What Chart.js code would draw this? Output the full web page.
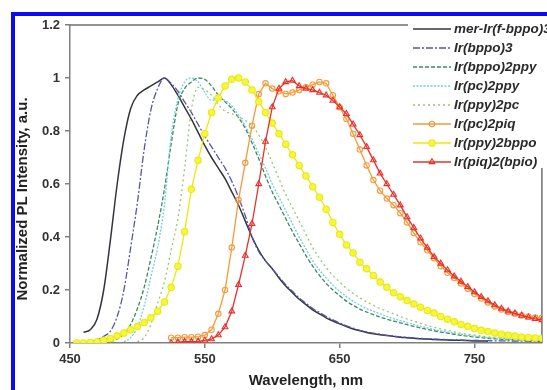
<!DOCTYPE html>
<html>
<head>
<meta charset="utf-8">
<script src="https://cdn.jsdelivr.net/npm/chart.js"></script>
<style>
  html, body { margin: 0; padding: 0; background: #fff; }
  #wrap { position: relative; width: 547px; height: 390px; overflow: hidden; }
</style>
</head>
<body>
<div id="wrap"><canvas id="plChart" width="547" height="390"></canvas></div>
<script>
// wavelength grid (nm) the curves were read at
const wavelengths = [
  450, 455, 460, 465, 470, 475, 480, 485, 490, 495,
  500, 505, 510, 515, 520, 525, 530, 535, 540, 545,
  550, 555, 560, 565, 570, 575, 580, 585, 590, 595,
  600, 605, 610, 615, 620, 625, 630, 635, 640, 645,
  650, 655, 660, 665, 670, 675, 680, 685, 690, 695,
  700, 705, 710, 715, 720, 725, 730, 735, 740, 745,
  750, 755, 760, 765, 770, 775, 780, 785, 790, 795,
  800
];

const seriesNames = [
  'mer-Ir(f-bppo)3', 'Ir(bppo)3', 'Ir(bppo)2ppy', 'Ir(pc)2ppy',
  'Ir(ppy)2pc', 'Ir(pc)2piq', 'Ir(ppy)2bppo', 'Ir(piq)2(bpio)'
];

const merIrFbppo3 = [
  null, null, 0.04, 0.05, 0.09, 0.20, 0.39, 0.60, 0.77, 0.885,
  0.935, 0.955, 0.97, 0.985, 1.0, 0.975, 0.935, 0.89, 0.845, 0.795,
  0.745, 0.70, 0.66, 0.62, 0.57, 0.52, 0.46, 0.40, 0.35, 0.31,
  0.28, 0.245, 0.215, 0.19, 0.165, 0.145, 0.125, 0.11, 0.095, 0.083,
  0.072, 0.062, 0.053, 0.046, 0.04, 0.035, 0.031, 0.028, 0.025, 0.022,
  0.02, 0.018, 0.016, 0.015, 0.013, 0.012, 0.011, 0.01, 0.01, 0.009,
  0.008, 0.008, 0.007, null, null, null, null, null, null, null,
  null
];

const irBppo3 = [
  null, null, null, 0.005, 0.012, 0.025, 0.045, 0.10, 0.20, 0.36,
  0.53, 0.73, 0.88, 0.96, 1.0, 0.98, 0.95, 0.91, 0.87, 0.825,
  0.78, 0.74, 0.70, 0.66, 0.61, 0.55, 0.48, 0.40, 0.345, 0.31,
  0.28, 0.25, 0.22, 0.195, 0.17, 0.15, 0.13, 0.115, 0.10, 0.087,
  0.075, 0.065, 0.056, 0.048, 0.042, 0.037, 0.033, 0.029, 0.026, 0.023,
  0.021, 0.019, 0.017, 0.016, 0.015, 0.014, 0.013, 0.012, 0.011, 0.01,
  0.01, 0.009, 0.009, 0.008, 0.008, 0.008, 0.007, 0.007, 0.007, 0.006,
  0.006
];

const irBppo2ppy = [
  null, null, null, null, null, null, 0.005, 0.015, 0.035, 0.07,
  0.13, 0.21, 0.32, 0.44, 0.58, 0.75, 0.90, 0.96, 0.985, 1.0,
  0.995, 0.97, 0.935, 0.91, 0.885, 0.85, 0.81, 0.755, 0.695, 0.63,
  0.57, 0.52, 0.47, 0.42, 0.375, 0.33, 0.29, 0.255, 0.225, 0.2,
  0.178, 0.158, 0.142, 0.128, 0.117, 0.107, 0.098, 0.09, 0.083, 0.076,
  0.069, 0.063, 0.057, 0.051, 0.046, 0.041, 0.037, 0.033, 0.029, 0.026,
  0.023, 0.02, 0.018, 0.016, 0.014, 0.013, 0.012, 0.011, 0.01, 0.009,
  0.009
];

const irPc2ppy = [
  null, null, null, null, null, null, null, null, 0.005, 0.02,
  0.06, 0.14, 0.25, 0.36, 0.52, 0.78, 0.92, 0.985, 1.0, 0.985,
  0.945, 0.915, 0.92, 0.915, 0.895, 0.86, 0.82, 0.77, 0.715, 0.66,
  0.60, 0.55, 0.50, 0.45, 0.40, 0.355, 0.31, 0.275, 0.245, 0.218,
  0.195, 0.175, 0.158, 0.143, 0.13, 0.12, 0.11, 0.1, 0.092, 0.084,
  0.077, 0.07, 0.063, 0.057, 0.051, 0.046, 0.041, 0.037, 0.033, 0.029,
  0.026, 0.023, 0.02, 0.018, 0.016, 0.014, 0.013, 0.012, 0.011, 0.01,
  0.01
];

const irPpy2pc = [
  null, null, null, null, null, null, null, null, null, null,
  0.005, 0.02, 0.07, 0.15, 0.23, 0.35, 0.47, 0.66, 0.88, 0.965,
  0.955, 0.935, 0.90, 0.875, 0.865, 0.855, 0.84, 0.82, 0.785, 0.74,
  0.68, 0.62, 0.56, 0.51, 0.46, 0.41, 0.36, 0.32, 0.285, 0.255,
  0.23, 0.207, 0.187, 0.17, 0.155, 0.142, 0.13, 0.12, 0.11, 0.1,
  0.091, 0.082, 0.074, 0.066, 0.059, 0.053, 0.047, 0.042, 0.037, 0.033,
  0.03, 0.026, 0.023, 0.021, 0.019, 0.017, 0.015, 0.013, 0.012, 0.011,
  0.01
];

const irPc2piq = [
  null, null, null, null, null, null, null, null, null, null,
  null, null, null, null, null, 0.02, 0.02, 0.022, 0.022, 0.024,
  0.03, 0.05, 0.11, 0.2, 0.36, 0.54, 0.68, 0.82, 0.94, 0.98,
  0.96, 0.95, 0.94, 0.945, 0.955, 0.965, 0.975, 0.985, 0.98, 0.935,
  0.89, 0.845, 0.79, 0.73, 0.67, 0.615, 0.575, 0.545, 0.52, 0.49,
  0.455, 0.415, 0.38, 0.35, 0.32, 0.29, 0.265, 0.245, 0.225, 0.205,
  0.185, 0.168, 0.153, 0.138, 0.126, 0.117, 0.11, 0.104, 0.1, 0.096,
  0.095
];

const irPpy2bppo = [
  null, 0.0, 0.0, 0.002, 0.005, 0.01, 0.017, 0.027, 0.038, 0.05,
  0.062, 0.077, 0.095, 0.12, 0.155, 0.21, 0.29, 0.42, 0.58, 0.69,
  0.79, 0.87, 0.925, 0.97, 0.995, 1.0, 0.985, 0.955, 0.91, 0.87,
  0.83, 0.79, 0.75, 0.71, 0.67, 0.63, 0.59, 0.55, 0.505, 0.455,
  0.41, 0.37, 0.34, 0.305, 0.28, 0.255, 0.23, 0.21, 0.19, 0.175,
  0.16, 0.147, 0.135, 0.123, 0.113, 0.1, 0.09, 0.08, 0.07, 0.063,
  0.055, 0.048, 0.043, 0.038, 0.033, 0.029, 0.026, 0.023, 0.021, 0.019,
  0.018
];

const irPiq2bpio = [
  null, null, null, null, null, null, null, null, null, null,
  null, null, null, null, null, 0.0, 0.003, 0.005, 0.005, 0.006,
  0.01, 0.015, 0.03, 0.06, 0.12, 0.22, 0.33, 0.45, 0.6, 0.76,
  0.89, 0.96, 0.985, 0.99, 0.97, 0.96, 0.955, 0.945, 0.935, 0.915,
  0.89, 0.865, 0.825, 0.785, 0.74, 0.69, 0.64, 0.6, 0.56, 0.52,
  0.475, 0.435, 0.395, 0.36, 0.325, 0.3, 0.275, 0.252, 0.232, 0.212,
  0.192, 0.174, 0.158, 0.143, 0.13, 0.12, 0.112, 0.104, 0.097, 0.091,
  0.087
];

const xTickValues = [450, 550, 650, 750];
const yTickValues = [0, 0.2, 0.4, 0.6, 0.8, 1, 1.2];
const yTickLabels = ['0', '0.2', '0.4', '0.6', '0.8', '1', '1.2'];

const FONT = '"Liberation Sans", Arial, sans-serif';
const AXIS_GREY = '#808080';

const toPoints = (values) => wavelengths
  .map((w, i) => ({x: w, y: values[i]}))
  .filter((p) => p.y !== null);

const lineSet = (i, values, color, dash, width = 1.3) => ({
  label: seriesNames[i],
  data: toPoints(values),
  borderColor: color,
  backgroundColor: color,
  borderWidth: width,
  borderDash: dash,
  pointRadius: 0,
  cubicInterpolationMode: 'monotone',
  order: 7 - i
});

const markerSet = (i, values, color, style, fill, radius) => ({
  label: seriesNames[i],
  data: toPoints(values),
  borderColor: color,
  backgroundColor: fill,
  borderWidth: 1.3,
  borderDash: [],
  pointStyle: style,
  pointRadius: radius,
  pointBorderColor: color,
  pointBackgroundColor: fill,
  pointBorderWidth: 1.1,
  tension: 0,
  order: 7 - i
});

const drawMarker = (ctx, style, x, y, r, stroke, fill) => {
  ctx.beginPath();
  if (style === 'triangle') {
    ctx.moveTo(x, y - r);
    ctx.lineTo(x + r * 0.87, y + r * 0.5);
    ctx.lineTo(x - r * 0.87, y + r * 0.5);
    ctx.closePath();
  } else {
    ctx.arc(x, y, r, 0, Math.PI * 2);
  }
  ctx.fillStyle = fill;
  ctx.fill();
  ctx.strokeStyle = stroke;
  ctx.lineWidth = 1.1;
  ctx.stroke();
};

// top/right frame of the plot, drawn under the curves
const plotFrame = {
  id: 'plotFrame',
  beforeDatasetsDraw(chart) {
    const {ctx, chartArea: a} = chart;
    ctx.save();
    ctx.strokeStyle = '#707070';
    ctx.lineWidth = 1.5;
    ctx.beginPath();
    ctx.moveTo(a.left, a.top);
    ctx.lineTo(a.right, a.top);
    ctx.lineTo(a.right, a.bottom);
    ctx.stroke();
    ctx.restore();
  }
};

// legend sits over the plot, y title and blue border
const overlay = {
  id: 'overlay',
  afterDraw(chart) {
    const ctx = chart.ctx;
    ctx.save();

    ctx.fillStyle = '#fff';
    ctx.fillRect(408, 17, 139, 151);
    chart.data.datasets.forEach((ds, i) => {
      const y = 29 + i * 19;
      ctx.strokeStyle = ds.borderColor;
      ctx.lineWidth = ds.borderWidth;
      ctx.setLineDash(ds.borderDash || []);
      ctx.beginPath();
      ctx.moveTo(413, y);
      ctx.lineTo(451, y);
      ctx.stroke();
      ctx.setLineDash([]);
      if (ds.pointRadius > 0) {
        drawMarker(ctx, ds.pointStyle, 432, y, ds.pointRadius, ds.pointBorderColor, ds.pointBackgroundColor);
      }
      ctx.fillStyle = '#2a2a2a';
      ctx.font = `italic bold 13.5px ${FONT}`;
      ctx.textAlign = 'left';
      ctx.textBaseline = 'middle';
      ctx.fillText(ds.label, 454, y);
    });

    ctx.translate(23, 199);
    ctx.rotate(-Math.PI / 2);
    ctx.fillStyle = '#222';
    ctx.font = `bold 15px ${FONT}`;
    ctx.textAlign = 'center';
    ctx.textBaseline = 'middle';
    ctx.fillText('Normalized PL Intensity, a.u.', 0, 0);
    ctx.setTransform(1, 0, 0, 1, 0, 0);

    ctx.fillStyle = '#0a0af5';
    ctx.fillRect(11, 12, 4, 390);
    ctx.fillRect(11, 12, 547, 4);
    ctx.restore();
  }
};

const datasets = [
  lineSet(0, merIrFbppo3, '#34343e', [], 1.5),
  lineSet(1, irBppo3, '#5656a6', [7, 2, 2, 2]),
  lineSet(2, irBppo2ppy, '#3a8a5c', [4, 2]),
  lineSet(3, irPc2ppy, '#6fcde0', [2, 1.5]),
  lineSet(4, irPpy2pc, '#92c874', [2, 3]),
  markerSet(5, irPc2piq, '#f59a3a', 'circle', 'rgba(255,255,255,0)', 2.7),
  markerSet(6, irPpy2bppo, '#eaea10', 'circle', '#f6f640', 3.2),
  markerSet(7, irPiq2bpio, '#e8302a', 'triangle', 'rgba(255,255,255,0)', 3.3)
];

new Chart(document.getElementById('plChart'), {
  type: 'line',
  data: {datasets},
  options: {
    responsive: false,
    animation: false,
    events: [],
    layout: {padding: {top: 25, right: 3, left: 0, bottom: 0}},
    plugins: {legend: {display: false}, tooltip: {enabled: false}},
    scales: {
      x: {
        type: 'linear',
        min: 450,
        max: 800,
        afterBuildTicks: (s) => { s.ticks = xTickValues.map((v) => ({value: v})); },
        afterFit: (s) => { s.height = 47; },
        border: {color: AXIS_GREY, width: 1.5},
        grid: {drawOnChartArea: false, drawTicks: true, tickLength: 5, color: AXIS_GREY, lineWidth: 1.5},
        ticks: {color: '#333', font: {family: FONT, size: 13, weight: 'bold'}, padding: 4, maxRotation: 0, autoSkip: false},
        title: {display: true, text: 'Wavelength, nm', color: '#222', font: {family: FONT, size: 15, weight: 'bold'}, padding: {top: 0, bottom: 0}}
      },
      y: {
        min: 0,
        max: 1.2,
        afterBuildTicks: (s) => { s.ticks = yTickValues.map((v) => ({value: v})); },
        afterFit: (s) => { s.width = 70; },
        border: {color: AXIS_GREY, width: 1.5},
        grid: {drawOnChartArea: false, drawTicks: true, tickLength: 5, color: AXIS_GREY, lineWidth: 1.5},
        ticks: {
          color: '#333',
          font: {family: FONT, size: 13, weight: 'bold'},
          padding: 5,
          callback: (v, i) => yTickLabels[i]
        }
      }
    }
  },
  plugins: [plotFrame, overlay]
});
</script>
</body>
</html>
